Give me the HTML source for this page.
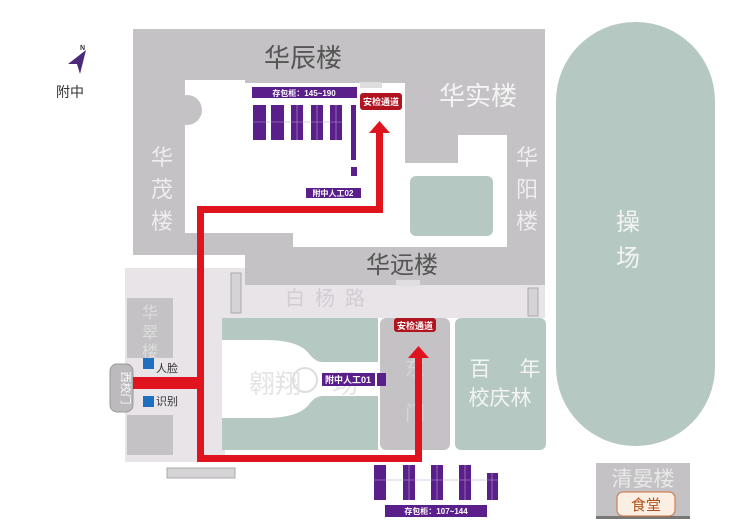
<!DOCTYPE html>
<html><head><meta charset="utf-8"><style>
html,body{margin:0;padding:0;background:#fff;}
svg{display:block;}
text{font-family:"Liberation Sans","Noto Sans CJK SC",sans-serif;}
</style></head><body>
<svg width="750" height="531" viewBox="0 0 750 531" xmlns="http://www.w3.org/2000/svg">
<rect width="750" height="531" fill="#fff"/>
<!-- road -->
<path d="M120 268 H545 V318 H225 V462 H125 V268 Z" fill="#e8e4e8"/>
<!-- big gray block -->
<path d="M133 29 H545 V285 H245 V255 H133 Z" fill="#c4c2c4"/>
<!-- inner white -->
<path d="M185 80 H245 V83 H405 V163 H458 V135 H507 V247 H293 V233 H185 Z" fill="#fff"/>
<circle cx="187" cy="110" r="15" fill="#c4c2c4"/>
<rect x="360" y="82" width="22" height="6" fill="#ddd"/>
<rect x="410" y="176" width="83" height="60" rx="6" fill="#b5c9c2"/>
<rect x="396" y="280" width="24" height="6" fill="#e0dde0"/>
<!-- small boxes -->
<rect x="231" y="273" width="10" height="40" fill="#d6d3d6" stroke="#aaa"/>
<rect x="528" y="288" width="10" height="28" fill="#d6d3d6" stroke="#aaa"/>
<rect x="167" y="468" width="68" height="10" fill="#d6d3d6" stroke="#aaa"/>
<!-- 华翠楼 -->
<rect x="127" y="298" width="46" height="60" fill="#c4c2c4"/>
<rect x="127" y="415" width="46" height="40" fill="#c4c2c4"/>
<rect x="110" y="364" width="23" height="48" rx="7" fill="#bcbabc" stroke="#999"/>
<!-- green field -->
<rect x="222" y="318" width="156" height="132" fill="#b5c9c2"/>
<path d="M222 340 H265 Q300 340 310 355 Q316 362 322 362 H378 V396 H322 Q316 396 310 403 Q300 418 265 418 H222 Z" fill="#fff"/>
<circle cx="305" cy="380" r="12" fill="none" stroke="#ddd" stroke-width="2"/>
<rect x="380" y="318" width="70" height="132" rx="6" fill="#c4c2c4"/>
<rect x="455" y="318" width="91" height="132" rx="6" fill="#b5c9c2"/>
<!-- stadium -->
<rect x="556" y="22" width="159" height="424" rx="79" fill="#b5c9c2"/>
<!-- 清晏楼 -->
<rect x="596" y="463" width="94" height="55" fill="#c4c2c4"/>
<rect x="596" y="516" width="94" height="3" fill="#777"/>
<rect x="617" y="492" width="58" height="24" rx="6" fill="#fbeee2" stroke="#c8703a"/>
<!-- labels buildings -->
<text x="303" y="67" font-size="26" fill="#555" text-anchor="middle">华辰楼</text>
<text x="478" y="105" font-size="26" fill="#f4f4f4" text-anchor="middle">华实楼</text>
<text x="402" y="273" font-size="24" fill="#555" text-anchor="middle">华远楼</text>
<text x="162" y="165" font-size="22" fill="#eee" text-anchor="middle">华</text>
<text x="162" y="197" font-size="22" fill="#eee" text-anchor="middle">茂</text>
<text x="162" y="229" font-size="22" fill="#eee" text-anchor="middle">楼</text>
<text x="527" y="165" font-size="22" fill="#eee" text-anchor="middle">华</text>
<text x="527" y="197" font-size="22" fill="#eee" text-anchor="middle">阳</text>
<text x="527" y="229" font-size="22" fill="#eee" text-anchor="middle">楼</text>
<text x="628" y="230" font-size="24" fill="#f4f4f4" text-anchor="middle">操</text>
<text x="628" y="266" font-size="24" fill="#f4f4f4" text-anchor="middle">场</text>
<text x="330" y="305" font-size="20" fill="#d4cbd4" text-anchor="middle" letter-spacing="10">白杨路</text>
<text x="150" y="318" font-size="16" fill="#ddd" text-anchor="middle">华</text>
<text x="150" y="338" font-size="16" fill="#ddd" text-anchor="middle">翠</text>
<text x="150" y="357" font-size="16" fill="#ddd" text-anchor="middle">楼</text>
<text x="122" y="388" font-size="11" fill="#fff" text-anchor="middle" transform="rotate(90 122 388)">西校门</text>
<text x="275" y="393" font-size="26" fill="#e4e4e4" text-anchor="middle">翱翔</text>
<text x="345" y="393" font-size="26" fill="#e4e4e4" text-anchor="middle">场</text>
<text x="415" y="375" font-size="20" fill="#d6d6d6" text-anchor="middle">东</text>
<text x="415" y="420" font-size="20" fill="#d6d6d6" text-anchor="middle">门</text>
<text x="480" y="376" font-size="21" fill="#f4f4f4" text-anchor="middle">百</text>
<text x="530" y="376" font-size="21" fill="#f4f4f4" text-anchor="middle">年</text>
<text x="500" y="405" font-size="21" fill="#f4f4f4" text-anchor="middle">校庆林</text>
<text x="643" y="486" font-size="21" fill="#e8e8e8" text-anchor="middle">清晏楼</text>
<text x="646" y="510" font-size="15" fill="#b0501a" text-anchor="middle">食堂</text>
<!-- north -->
<path d="M86 50 L68 64 L77 64 L80 74 Z" fill="#4b2a7a"/>
<text x="80" y="50" font-size="7" fill="#333" font-weight="bold">N</text>
<text x="70" y="97" font-size="14" fill="#333" text-anchor="middle">附中</text>
<!-- blue gates -->
<rect x="143" y="358" width="11" height="11" fill="#1e6fc0"/>
<rect x="143" y="378" width="11" height="11" fill="#1e6fc0"/>
<rect x="143" y="396" width="11" height="11" fill="#1e6fc0"/>
<text x="156" y="372" font-size="11" fill="#333">人脸</text>
<text x="156" y="405" font-size="11" fill="#333">识别</text>
<!-- red path -->
<g fill="#e0141e">
<rect x="133" y="377" width="70" height="12"/>
<rect x="197" y="206" width="7" height="256"/>
<rect x="197" y="206" width="186" height="7"/>
<rect x="376" y="130" width="7" height="83"/>
<path d="M369 133 L379.5 121 L390 133 Z"/>
<rect x="197" y="455" width="225" height="7"/>
<rect x="415" y="355" width="7" height="107"/>
<path d="M408 358 L418.5 346 L429 358 Z"/>
</g>
<!-- lockers top -->
<g fill="#5a1f8a">
<rect x="252" y="87" width="105" height="11"/>
<rect x="253" y="105" width="13" height="35"/>
<rect x="271" y="105" width="13" height="35"/>
<rect x="291" y="105" width="12" height="35"/>
<rect x="311" y="105" width="12" height="35"/>
<rect x="330" y="105" width="12" height="35"/>
<rect x="351" y="105" width="5" height="55"/>
<rect x="351" y="167" width="6" height="9"/>
<rect x="306" y="188" width="55" height="10"/>
<rect x="322" y="373" width="53" height="13"/>
<rect x="377" y="373" width="9" height="13"/>
<rect x="374" y="465" width="12" height="35"/>
<rect x="403" y="465" width="12" height="35"/>
<rect x="431" y="465" width="12" height="35"/>
<rect x="459" y="465" width="12" height="35"/>
<rect x="487" y="473" width="11" height="27"/>
<rect x="385" y="505" width="102" height="12"/>
</g>
<g stroke="#b49fd0" stroke-width="0.6">
<line x1="253" y1="122" x2="342" y2="122"/><line x1="297" y1="105" x2="297" y2="140"/><line x1="317" y1="105" x2="317" y2="140"/><line x1="336" y1="105" x2="336" y2="140"/>
<line x1="374" y1="480" x2="498" y2="480"/><line x1="409" y1="465" x2="409" y2="500"/><line x1="437" y1="465" x2="437" y2="500"/><line x1="465" y1="465" x2="465" y2="500"/><line x1="492" y1="473" x2="492" y2="500"/>
</g>
<text x="304" y="96" font-size="8" fill="#fff" text-anchor="middle" font-weight="bold">存包柜：145~190</text>
<text x="333" y="196" font-size="8" fill="#fff" text-anchor="middle" font-weight="bold">附中人工02</text>
<text x="348" y="383" font-size="9" fill="#fff" text-anchor="middle" font-weight="bold">附中人工01</text>
<text x="436" y="514" font-size="8" fill="#fff" text-anchor="middle" font-weight="bold">存包柜：107~144</text>
<!-- security -->
<rect x="360" y="93" width="42" height="17" rx="3" fill="#b0141e"/>
<text x="381" y="105" font-size="9" fill="#fff" text-anchor="middle" font-weight="bold">安检通道</text>
<rect x="394" y="318" width="42" height="14" rx="3" fill="#b0141e"/>
<text x="415" y="329" font-size="9" fill="#fff" text-anchor="middle" font-weight="bold">安检通道</text>
</svg>
</body></html>
